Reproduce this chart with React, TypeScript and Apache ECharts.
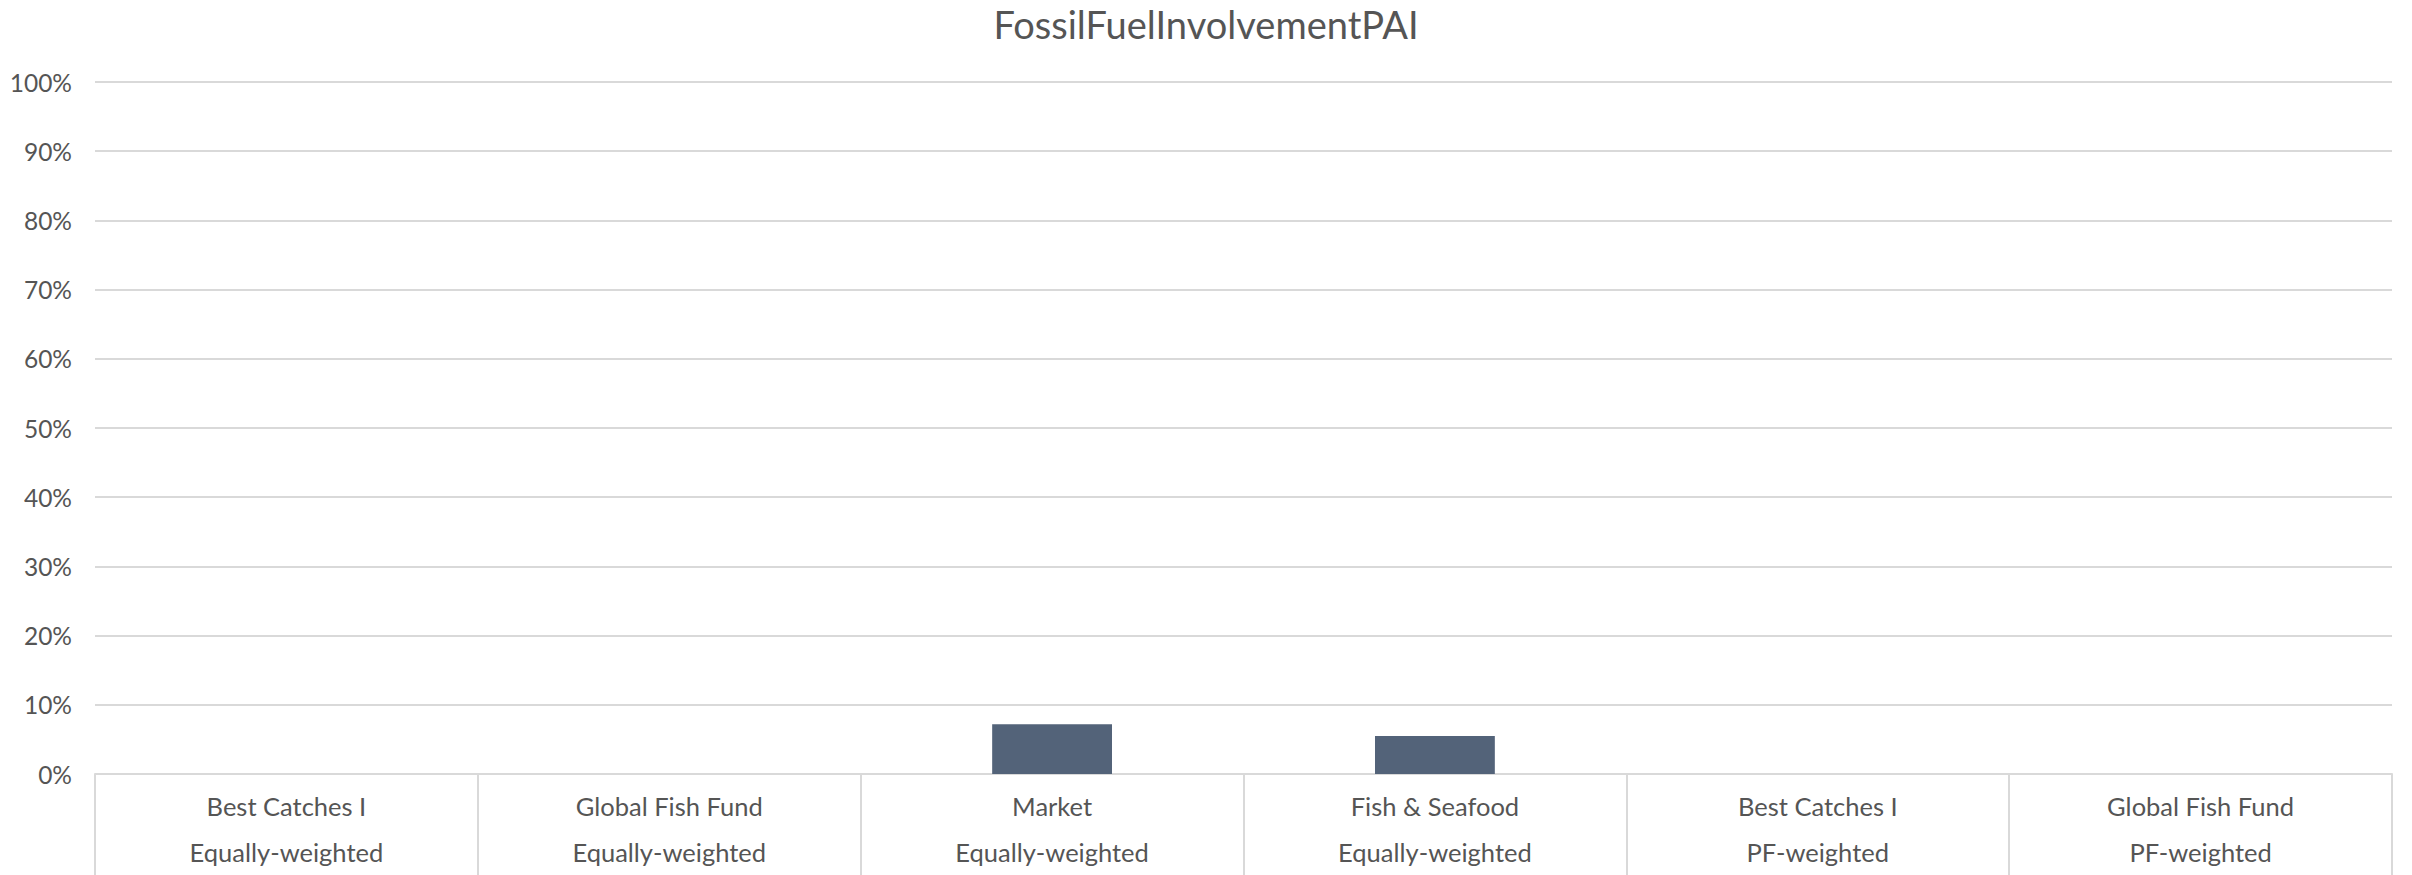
import React, { useEffect, useRef } from "react";
import * as echarts from "echarts";

const categories = [
  "Best Catches I\nEqually-weighted",
  "Global Fish Fund\nEqually-weighted",
  "Market\nEqually-weighted",
  "Fish & Seafood\nEqually-weighted",
  "Best Catches I\nPF-weighted",
  "Global Fish Fund\nPF-weighted",
];
const values = [0, 0, 7.2, 5.5, 0, 0];
const yTicks = [0, 10, 20, 30, 40, 50, 60, 70, 80, 90, 100];

const FONT = "Lato, 'Noto Sans', sans-serif";
const TEXT = "#555555";

export default function App() {
  const ref = useRef<HTMLDivElement>(null);
  useEffect(() => {
    const chart = echarts.init(ref.current!, null, { renderer: "svg" });
    chart.setOption({
      animation: false,
      title: {
        text: "FossilFuelInvolvementPAI",
        left: "center",
        top: 0,
        textStyle: { fontFamily: FONT, fontSize: 38, fontWeight: "normal", color: TEXT },
      },
      grid: { left: 95, right: 20, top: 82, bottom: 96 },
      xAxis: {
        type: "category",
        data: categories,
        boundaryGap: true,
        axisLine: { lineStyle: { color: "#d9d9d9", width: 2 } },
        axisTick: { show: true, length: 120, lineStyle: { color: "#d9d9d9", width: 2 } },
        axisLabel: {
          fontFamily: FONT,
          fontSize: 25.5,
          color: TEXT,
          lineHeight: 46,
          margin: 9,
          interval: 0,
        },
      },
      yAxis: {
        type: "value",
        min: yTicks[0],
        max: yTicks[yTicks.length - 1],
        interval: 10,
        axisLine: { show: false },
        axisTick: { show: false },
        splitLine: { lineStyle: { color: "#d9d9d9", width: 2 } },
        axisLabel: {
          fontFamily: FONT,
          fontSize: 24.5,
          color: TEXT,
          margin: 23,
          formatter: (v: number) => `${v}%`,
        },
      },
      series: [
        {
          type: "bar",
          data: values,
          barWidth: "31.3%",
          itemStyle: { color: "#536379" },
        },
      ],
    });
    return () => chart.dispose();
  }, []);
  return (
    <div
      ref={ref}
      style={{ position: "fixed", left: 0, top: 0, width: 2412, height: 875, background: "#fff" }}
    />
  );
}
